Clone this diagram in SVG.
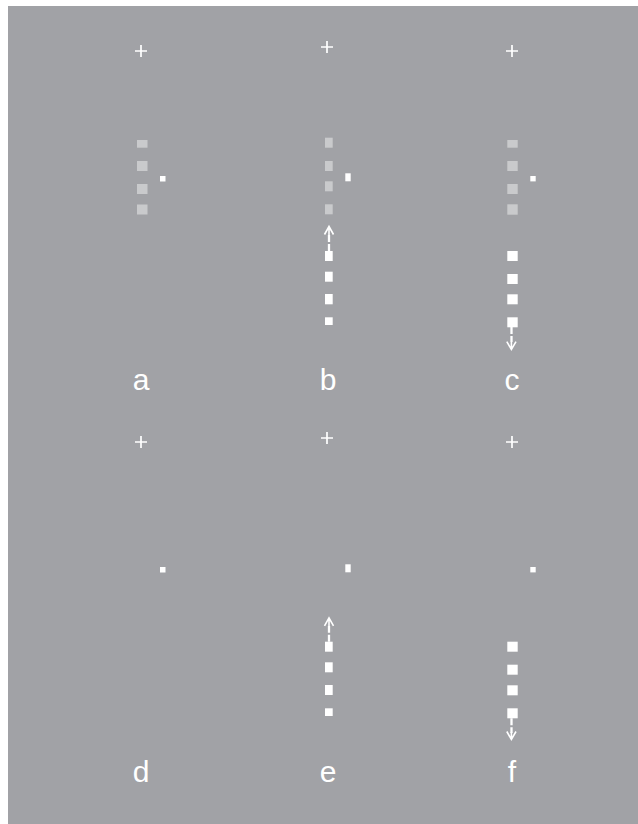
<svg xmlns="http://www.w3.org/2000/svg" width="638" height="824" viewBox="0 0 638 824">
<style>
.bg{fill:#a1a2a6}
.cr{stroke:#ffffff;stroke-width:1.7;fill:none}
.lt{fill:#c9cacc}
.wh{fill:#ffffff}
.lbl{font-family:"Liberation Sans",Arial,sans-serif;font-size:30px;fill:#ffffff;text-anchor:middle}
.shaft{stroke:#ffffff;stroke-width:2.3;stroke-dasharray:7 2;fill:none}
.head{stroke:#ffffff;stroke-width:1.6;fill:none}
</style>
<rect class="bg" x="8" y="6" width="630" height="818"/>
<g id="panel-a">
<path class="cr" d="M135 51H147M141 45V57"/>
<rect class="lt" x="137" y="140" width="10.5" height="7.7"/>
<rect class="lt" x="137" y="161" width="10.5" height="10"/>
<rect class="lt" x="137" y="184" width="10.5" height="10"/>
<rect class="lt" x="137" y="204.5" width="10.5" height="10"/>
<rect class="wh" x="160" y="176" width="5.5" height="5.5"/>
<text class="lbl" x="141" y="390">a</text>
</g>
<g id="panel-b">
<path class="cr" d="M321 47H333M327 41V53"/>
<rect class="lt" x="325" y="137.7" width="7.7" height="10"/>
<rect class="lt" x="325" y="161" width="7.7" height="10"/>
<rect class="lt" x="325" y="181.3" width="7.7" height="10"/>
<rect class="lt" x="325" y="204.3" width="7.7" height="10"/>
<rect class="wh" x="345.3" y="173.3" width="5.4" height="8"/>
<rect class="wh" x="325" y="251" width="7.7" height="10"/>
<rect class="wh" x="325" y="271.7" width="7.7" height="10"/>
<rect class="wh" x="325" y="294" width="7.7" height="10.3"/>
<rect class="wh" x="325" y="317.3" width="7.7" height="7.7"/>
<text class="lbl" x="328" y="390">b</text>
</g>
<g id="panel-c">
<path class="cr" d="M506 51H518M512 45V57"/>
<rect class="lt" x="507.3" y="140" width="10.4" height="7.7"/>
<rect class="lt" x="507.3" y="161" width="10.4" height="10"/>
<rect class="lt" x="507.3" y="184" width="10.4" height="10"/>
<rect class="lt" x="507.3" y="204.3" width="10.4" height="10.4"/>
<rect class="wh" x="530.3" y="176" width="5.4" height="5.4"/>
<rect class="wh" x="507.3" y="251" width="10.4" height="10"/>
<rect class="wh" x="507.3" y="274" width="10.4" height="10"/>
<rect class="wh" x="507.3" y="294.3" width="10.4" height="10"/>
<rect class="wh" x="507.3" y="317.3" width="10.4" height="10"/>
<text class="lbl" x="512" y="390">c</text>
</g>
<g id="panel-d">
<path class="cr" d="M135 442H147M141 436V448"/>
<rect class="wh" x="160" y="567" width="5.5" height="5.5"/>
<text class="lbl" x="141" y="782">d</text>
</g>
<g id="panel-e">
<path class="cr" d="M321 438H333M327 432V444"/>
<rect class="wh" x="345.3" y="564.3" width="5.4" height="8"/>
<rect class="wh" x="325" y="641.7" width="7.7" height="10"/>
<rect class="wh" x="325" y="662.3" width="7.7" height="10"/>
<rect class="wh" x="325" y="685" width="7.7" height="10"/>
<rect class="wh" x="325" y="708.3" width="7.7" height="7.7"/>
<text class="lbl" x="328" y="782">e</text>
</g>
<g id="panel-f">
<path class="cr" d="M506 442H518M512 436V448"/>
<rect class="wh" x="530.3" y="567" width="5.4" height="5.4"/>
<rect class="wh" x="507.3" y="641.7" width="10.4" height="10"/>
<rect class="wh" x="507.3" y="664.7" width="10.4" height="10"/>
<rect class="wh" x="507.3" y="685.3" width="10.4" height="10"/>
<rect class="wh" x="507.3" y="708.3" width="10.4" height="10"/>
<text class="lbl" x="512" y="782">f</text>
</g>
<g id="connectors">
<path class="shaft" d="M329 251V235"/>
<path class="head" d="M324.5 234.5L329 226.5L333.5 234.5M329 227V235"/>
<path class="shaft" d="M511.5 327V342"/>
<path class="head" d="M506.8 341.7L511.4 349.5L516 341.7M511.4 342V349"/>
<path class="shaft" d="M329 641.7V626"/>
<path class="head" d="M324.5 625.8L329 617.8L333.5 625.8M329 618.3V626"/>
<path class="shaft" d="M511.5 718.3V733"/>
<path class="head" d="M506.8 731.5L511.4 739.5L516 731.5M511.4 732V739"/>
</g>
</svg>
